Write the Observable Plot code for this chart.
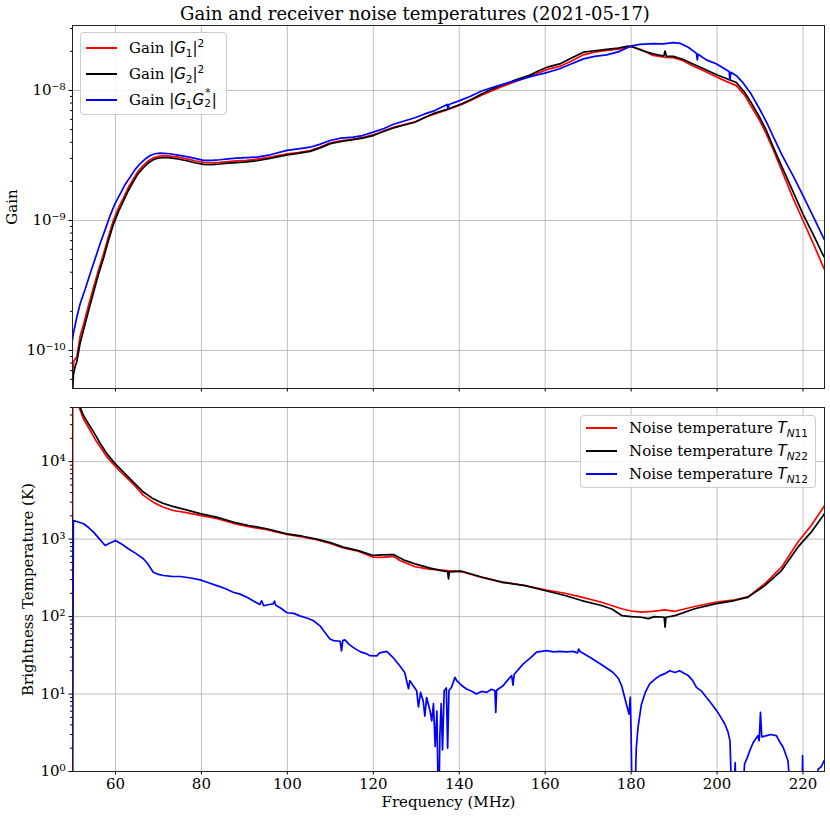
<!DOCTYPE html>
<html><head><meta charset="utf-8">
<script src="https://cdn.jsdelivr.net/npm/d3@7"></script>
<script src="https://cdn.jsdelivr.net/npm/@observablehq/plot@0.6"></script>
<style>
body{margin:0;background:#fff;}
#fig{position:relative;width:830px;height:816px;font-family:"DejaVu Serif",serif;color:#000;overflow:hidden;}
#fig svg{position:absolute;left:0;}
.title{position:absolute;top:2px;left:0;width:830px;text-align:center;font-size:18px;line-height:24px;}
.legend{position:absolute;background:rgba(255,255,255,0.85);border:1px solid #cccccc;border-radius:4px;box-sizing:border-box;font-size:15px;}
.row{position:absolute;left:0;height:22px;display:flex;align-items:center;white-space:nowrap;}
.sw{display:inline-block;margin-left:5px;width:31px;height:2px;}
.lbl{margin-left:12px;line-height:22px;}
.m{font-family:"DejaVu Sans",sans-serif;}
.m sub,.m sup{font-size:70%;line-height:0;}
.ss{position:relative;display:inline-block;width:0.5em;height:1em;vertical-align:baseline;}
.ss .sp{position:absolute;left:0.1em;top:-0.114em;font-size:70%;line-height:0.8;}
.ss .sb{position:absolute;left:0;top:0.9em;font-size:70%;line-height:0.8;}
</style>
</head><body>
<div id="fig">
  <div class="title">Gain and receiver noise temperatures (2021-05-17)</div>
</div>
<script>
// ---------- data (frequency MHz, value) ----------
const freqTicks = [60, 80, 100, 120, 140, 160, 180, 200, 220];
const gainMajor = [1e-10, 1e-9, 1e-8];
const tempMajor = [1, 10, 100, 1000, 10000];

const gainG1 = [[50.0,6.5e-11],[50.3,8.3e-11],[51.0,8.9e-11],[51.8,1.3e-10],[52.6,1.6e-10],[53.7,2.2e-10],[54.9,3.07e-10],[56.0,4.1e-10],[57.2,5.5e-10],[58.3,7.4e-10],[59.5,1.0e-9],[60.7,1.25e-9],[61.9,1.5e-9],[63.0,1.8e-9],[64.2,2.1e-9],[65.3,2.4e-9],[66.5,2.65e-9],[67.7,2.88e-9],[68.8,3.03e-9],[70.0,3.12e-9],[71.2,3.15e-9],[72.7,3.13e-9],[74.5,3.07e-9],[76.6,2.98e-9],[78.5,2.88e-9],[80.5,2.8e-9],[82.4,2.78e-9],[84.3,2.8e-9],[86.2,2.84e-9],[88.2,2.87e-9],[90.5,2.9e-9],[92.9,2.96e-9],[96.0,3.07e-9],[100.0,3.25e-9],[102.5,3.33e-9],[105.3,3.45e-9],[107.5,3.65e-9],[110.0,3.95e-9],[112.5,4.1e-9],[115.3,4.22e-9],[117.5,4.35e-9],[120.0,4.55e-9],[122.5,4.9e-9],[124.7,5.2e-9],[127.0,5.45e-9],[129.7,5.75e-9],[132.0,6.2e-9],[134.3,6.6e-9],[137.4,7.15e-9],[140.6,7.8e-9],[143.0,8.5e-9],[145.2,9.2e-9],[147.5,9.9e-9],[149.9,1.07e-8],[153.0,1.17e-8],[156.1,1.27e-8],[158.5,1.37e-8],[160.7,1.46e-8],[163.4,1.53e-8],[166.0,1.68e-8],[168.9,1.88e-8],[171.5,1.97e-8],[174.3,2.03e-8],[177.0,2.08e-8],[179.9,2.18e-8],[182.5,2.05e-8],[185.1,1.86e-8],[187.8,1.8e-8],[189.8,1.79e-8],[192.0,1.7e-8],[194.4,1.54e-8],[197.0,1.41e-8],[199.9,1.27e-8],[202.0,1.18e-8],[204.5,1.09e-8],[206.4,9.2e-9],[208.0,7.5e-9],[209.9,5.9e-9],[211.5,4.6e-9],[213.0,3.55e-9],[215.0,2.45e-9],[217.7,1.48e-9],[220.0,1.0e-9],[222.7,6.3e-10],[224.7,4.4e-10],[225.0,4.2e-10]];

const gainG2 = [[50.0,4.5e-11],[50.2,6.5e-11],[50.6,7.5e-11],[51.0,8.2e-11],[51.8,1.15e-10],[52.6,1.45e-10],[53.7,2.0e-10],[54.9,2.8e-10],[56.0,3.8e-10],[57.2,5.1e-10],[58.3,6.9e-10],[59.5,9.3e-10],[60.7,1.17e-9],[61.9,1.42e-9],[63.0,1.7e-9],[64.2,2.0e-9],[65.3,2.3e-9],[66.5,2.55e-9],[67.7,2.78e-9],[68.8,2.93e-9],[70.0,3.02e-9],[71.2,3.05e-9],[72.7,3.03e-9],[74.5,2.97e-9],[76.6,2.88e-9],[78.5,2.78e-9],[80.5,2.7e-9],[82.4,2.69e-9],[84.3,2.72e-9],[86.2,2.76e-9],[88.2,2.79e-9],[90.5,2.82e-9],[92.9,2.88e-9],[96.0,3.0e-9],[100.0,3.2e-9],[102.5,3.28e-9],[105.3,3.4e-9],[107.5,3.6e-9],[110.0,3.9e-9],[112.5,4.05e-9],[115.3,4.18e-9],[117.5,4.3e-9],[120.0,4.5e-9],[122.5,4.85e-9],[124.7,5.15e-9],[127.0,5.4e-9],[129.7,5.7e-9],[132.0,6.2e-9],[134.3,6.7e-9],[137.4,7.2e-9],[140.6,7.9e-9],[143.0,8.6e-9],[145.2,9.4e-9],[147.5,1.02e-8],[149.9,1.1e-8],[153.0,1.2e-8],[156.1,1.3e-8],[158.5,1.42e-8],[160.7,1.52e-8],[163.4,1.6e-8],[166.0,1.77e-8],[168.9,1.97e-8],[171.5,2.02e-8],[174.3,2.07e-8],[177.0,2.12e-8],[179.3,2.19e-8],[180.5,2.16e-8],[182.5,2.03e-8],[185.1,1.91e-8],[187.6,1.84e-8],[187.9,2.01e-8],[188.2,1.84e-8],[189.8,1.83e-8],[192.0,1.74e-8],[194.4,1.6e-8],[197.0,1.46e-8],[199.9,1.32e-8],[202.0,1.24e-8],[204.5,1.15e-8],[206.4,9.7e-9],[208.0,8.0e-9],[209.9,6.24e-9],[211.5,4.9e-9],[213.0,3.72e-9],[215.0,2.63e-9],[217.7,1.66e-9],[220.0,1.12e-9],[222.7,7.4e-10],[224.7,5.4e-10],[225.0,5.2e-10]];

const gainG12 = [[50.0,1.2e-10],[50.2,1.35e-10],[51.0,1.8e-10],[51.8,2.3e-10],[53.0,3.0e-10],[54.1,3.9e-10],[55.2,5.0e-10],[56.4,6.6e-10],[57.6,8.5e-10],[58.8,1.1e-9],[59.9,1.35e-9],[61.1,1.6e-9],[62.2,1.88e-9],[63.4,2.15e-9],[64.5,2.45e-9],[65.7,2.73e-9],[66.9,2.97e-9],[68.1,3.16e-9],[69.2,3.26e-9],[70.4,3.3e-9],[72.7,3.26e-9],[74.5,3.18e-9],[76.6,3.1e-9],[78.5,3.0e-9],[80.5,2.9e-9],[82.4,2.9e-9],[84.3,2.93e-9],[86.2,2.98e-9],[88.2,3.02e-9],[90.5,3.04e-9],[92.9,3.07e-9],[96.0,3.2e-9],[99.9,3.46e-9],[102.5,3.55e-9],[105.3,3.66e-9],[107.5,3.85e-9],[109.9,4.12e-9],[112.5,4.3e-9],[115.3,4.37e-9],[117.5,4.5e-9],[120.0,4.78e-9],[122.5,5.1e-9],[124.7,5.5e-9],[127.0,5.8e-9],[129.7,6.17e-9],[132.0,6.6e-9],[134.3,7.0e-9],[137.2,7.8e-9],[137.4,7.2e-9],[137.6,7.8e-9],[139.8,8.28e-9],[142.5,9.0e-9],[145.2,9.9e-9],[147.5,1.05e-8],[149.9,1.11e-8],[152.0,1.16e-8],[154.5,1.22e-8],[157.0,1.29e-8],[159.9,1.36e-8],[163.4,1.47e-8],[166.0,1.6e-8],[168.9,1.75e-8],[171.5,1.83e-8],[174.3,1.88e-8],[177.0,1.98e-8],[179.9,2.19e-8],[182.0,2.26e-8],[185.1,2.29e-8],[187.5,2.28e-8],[189.8,2.33e-8],[191.5,2.3e-8],[193.3,2.15e-8],[195.2,1.93e-8],[195.4,1.72e-8],[195.6,1.9e-8],[197.5,1.72e-8],[199.9,1.6e-8],[202.8,1.4e-8],[203.0,1.2e-8],[203.2,1.38e-8],[204.5,1.3e-8],[206.0,1.15e-8],[208.0,9.3e-9],[209.9,7.2e-9],[211.5,5.7e-9],[213.0,4.47e-9],[215.0,3.24e-9],[217.7,2.2e-9],[220.0,1.55e-9],[222.7,1.02e-9],[224.7,7.4e-10],[225.0,7.1e-10]];

const tempN11 = [[50.0,0.5],[50.05,8e4],[51.3,5.5e4],[52.5,3.6e4],[54.0,2.6e4],[55.5,1.85e4],[57.0,1.4e4],[58.0,1.15e4],[59.5,9.3e3],[61.0,7.6e3],[62.6,6.2e3],[64.5,4.9e3],[66.5,3.67e3],[68.8,3.0e3],[71.0,2.6e3],[73.5,2.34e3],[76.5,2.2e3],[79.7,2.02e3],[83.5,1.85e3],[87.4,1.6e3],[91.0,1.45e3],[95.2,1.32e3],[99.9,1.15e3],[103.5,1.07e3],[106.8,980],[110.0,880],[113.0,770],[116.5,700],[120.0,585],[122.0,580],[124.7,600],[126.2,530],[129.7,440],[133.0,410],[135.5,400],[137.1,393],[140.6,380],[145.2,320],[149.9,280],[155.3,252],[160.3,220],[164.6,200],[168.5,178],[173.1,153],[177.8,126],[180.0,118],[182.4,114],[185.0,117],[187.9,122],[190.2,117],[194.8,135],[199.5,153],[204.1,164],[207.2,180],[211.1,265],[215.0,434],[218.8,912],[221.9,1500],[224.7,2540],[225.0,2700]];

const tempN22 = [[50.0,8e4],[51.5,5.5e4],[52.5,4.0e4],[54.0,2.9e4],[54.9,2.42e4],[56.5,1.7e4],[58.0,1.27e4],[59.5,1.0e4],[61.0,8.2e3],[62.6,6.65e3],[64.5,5.2e3],[66.5,4.05e3],[68.8,3.31e3],[71.0,2.9e3],[73.5,2.63e3],[76.5,2.38e3],[79.7,2.13e3],[83.5,1.92e3],[87.4,1.66e3],[91.0,1.5e3],[95.2,1.36e3],[99.9,1.17e3],[103.5,1.09e3],[106.8,1.0e3],[110.0,900],[113.0,787],[116.5,710],[120.0,615],[122.0,625],[124.7,632],[127.0,540],[129.7,479],[133.0,425],[135.5,395],[137.3,380],[137.5,307],[137.7,378],[140.6,385],[145.2,324],[149.9,277],[155.3,251],[159.9,217],[164.6,187],[168.5,161],[173.1,139],[175.5,125],[177.8,103],[180.0,100],[182.4,98],[184.0,94],[185.5,100],[187.7,98],[187.9,73],[188.1,98],[190.2,103],[194.8,126],[199.5,146],[204.1,161],[207.2,178],[211.1,251],[215.0,393],[218.8,787],[221.9,1230],[224.7,2020],[225.0,2150]];

const tempN12 = [[50.0,0.5],[50.2,1.74e3],[51.5,1.65e3],[52.6,1.58e3],[53.8,1.4e3],[54.9,1.23e3],[56.3,1.0e3],[57.6,828],[58.5,880],[60.0,962],[61.5,860],[63.0,750],[64.8,650],[66.5,557],[67.5,480],[68.8,374],[70.0,350],[71.2,339],[73.0,330],[75.1,329],[77.5,315],[79.7,298],[81.5,275],[83.6,251],[85.5,230],[87.4,206],[89.0,195],[90.6,178],[92.0,160],[93.6,143],[94.0,160],[94.5,138],[95.5,142],[96.7,146],[97.0,158],[97.3,140],[98.5,128],[99.9,112],[101.5,110],[102.9,102],[104.5,96],[106.0,89],[107.6,76],[108.4,66],[109.9,51.5],[110.7,49],[112.3,48],[112.6,36],[112.9,49],[113.4,50],[114.3,44],[115.3,40],[117.0,35],[118.5,33],[119.2,31.3],[120.8,31],[121.5,34],[123.1,35.5],[124.5,30],[126.2,23],[127.3,19],[128.2,11.7],[128.5,14.9],[129.2,13],[130.1,11],[130.5,6.8],[131.0,10.5],[131.6,8.2],[132.0,5.2],[132.4,9],[133.2,6.1],[133.6,4.5],[134.0,7.5],[134.4,2.1],[134.8,6],[135.1,0.5],[135.3,0.5],[135.5,3],[135.8,7.5],[136.1,1.9],[136.5,11],[137.0,12],[137.3,2.0],[137.6,11],[138.2,12.2],[139.0,16.4],[139.4,14.9],[140.5,13],[141.7,11.6],[143.0,10.8],[144.0,10],[145.2,10.8],[146.4,10.5],[147.5,11.5],[148.3,11],[148.5,5.8],[148.7,11.2],[150.2,12.8],[151.2,15],[152.2,17.3],[152.5,13],[152.8,18],[154.9,24.5],[156.5,29],[158.0,34.7],[160.3,36.3],[162.0,35],[163.4,35.5],[165.0,35],[166.5,35.5],[167.5,34],[167.8,38],[168.1,35.5],[170.4,29.8],[173.5,23.2],[175.8,19],[177.0,16],[177.8,12.8],[178.9,7.4],[179.5,5.5],[179.8,9.1],[180.0,3],[180.2,0.5],[180.9,0.5],[181.2,2],[181.6,3.7],[182.4,7.4],[183.3,10.5],[184.3,13.5],[185.5,15.5],[186.7,17.3],[188.0,18.5],[189.0,20],[190.2,19],[191.3,20],[192.3,18.5],[193.3,17.3],[194.3,15],[195.2,12.2],[196.3,11],[197.5,9.1],[198.7,7.5],[199.9,6.1],[200.9,5],[201.8,4.1],[202.5,3.3],[203.0,2.5],[203.4,0.5],[204.0,0.5],[204.2,1.3],[204.5,0.5],[206.0,0.5],[206.4,1.26],[207.0,1.5],[207.6,1.85],[208.4,2.37],[209.5,2.9],[209.8,2.5],[210.1,5.8],[210.4,2.8],[211.5,2.9],[212.5,3.0],[213.8,2.9],[214.6,2.4],[215.4,2.04],[216.5,1.38],[217.1,0.5],[219.8,0.5],[219.9,1.6],[220.0,0.5],[223.3,0.5],[223.5,1.07],[224.2,1.15],[224.7,1.3],[225.0,1.4]];

// ---------- helpers ----------
const SUP = {"-":"\u207B","0":"\u2070","1":"\u00B9","2":"\u00B2","3":"\u00B3","4":"\u2074","5":"\u2075","6":"\u2076","7":"\u2077","8":"\u2078","9":"\u2079"};
const powFmt = v => "10" + String(Math.round(Math.log10(v))).split("").map(c => SUP[c]).join("");
function minorTicks(major, lo, hi) {
  const out = [];
  const decades = [major[0] / 10, ...major];
  for (const d of decades) for (let m = 2; m <= 9; m++) { const v = d * m; if (v >= lo && v <= hi) out.push(v); }
  return out;
}
const gridStyle = {stroke: "#b0b0b0", strokeOpacity: 1, strokeWidth: 0.8};
const lineStyle = {x: d => d[0], y: d => d[1], strokeWidth: 1.7, clip: true};
const FONT = "DejaVu Serif";
const labelStyle = {text: d => d, fontSize: 15, textAnchor: "middle", lineAnchor: "middle"};

const gainDomain = [5.1e-11, 3.16e-8];
const tempDomain = [1, 5.0e4];

const topChart = Plot.plot({
  width: 830, height: 400,
  marginTop: 25, marginBottom: 12, marginLeft: 72, marginRight: 6,
  style: {fontFamily: FONT, fontSize: "15px", background: "transparent", color: "black", overflow: "visible"},
  x: {domain: [50, 225]},
  y: {type: "log", domain: gainDomain},
  marks: [
    Plot.gridX(freqTicks, gridStyle),
    Plot.gridY(gainMajor, gridStyle),
    Plot.line(gainG1, {...lineStyle, stroke: "#ff0000"}),
    Plot.line(gainG2, {...lineStyle, stroke: "#000000"}),
    Plot.line(gainG12, {...lineStyle, stroke: "#0000ff"}),
    Plot.frame({stroke: "#222", strokeWidth: 1}),
    Plot.axisX(freqTicks, {tickSize: 3.5, tickFormat: () => "", label: null}),
    Plot.axisY(gainMajor, {tickSize: 3.5, tickPadding: 3.5, tickFormat: powFmt, label: null}),
    Plot.axisY(minorTicks(gainMajor, ...gainDomain), {tickSize: 2, tickFormat: () => "", label: null}),
    Plot.text(["Gain"], {...labelStyle, frameAnchor: "left", dx: -60, rotate: -90})
  ]
});

const botChart = Plot.plot({
  width: 830, height: 416,
  marginTop: 7, marginBottom: 45, marginLeft: 72, marginRight: 6,
  style: {fontFamily: FONT, fontSize: "15px", background: "transparent", color: "black", overflow: "visible"},
  x: {domain: [50, 225]},
  y: {type: "log", domain: tempDomain},
  marks: [
    Plot.gridX(freqTicks, gridStyle),
    Plot.gridY(tempMajor, gridStyle),
    Plot.line(tempN11, {...lineStyle, stroke: "#ff0000"}),
    Plot.line(tempN22, {...lineStyle, stroke: "#000000"}),
    Plot.line(tempN12, {...lineStyle, stroke: "#0000ff"}),
    Plot.frame({stroke: "#222", strokeWidth: 1}),
    Plot.axisX(freqTicks, {tickSize: 3.5, tickPadding: 3.5, label: null}),
    Plot.axisY(tempMajor, {tickSize: 3.5, tickPadding: 3.5, tickFormat: powFmt, label: null}),
    Plot.axisY(minorTicks(tempMajor, ...tempDomain), {tickSize: 2, tickFormat: () => "", label: null}),
    Plot.text(["Brightness Temperature (K)"], {...labelStyle, frameAnchor: "left", dx: -44, rotate: -90}),
    Plot.text(["Frequency (MHz)"], {...labelStyle, frameAnchor: "bottom", dy: 31})
  ]
});

const fig = document.getElementById("fig");
topChart.style.top = "0px";
botChart.style.top = "400px";
fig.appendChild(topChart);
fig.appendChild(botChart);

// ---------- legends ----------
const gainLegend = [
  {color: "#ff0000", html: 'Gain <span class="m">|<i>G</i><sub>1</sub>|<sup>2</sup></span>'},
  {color: "#000000", html: 'Gain <span class="m">|<i>G</i><sub>2</sub>|<sup>2</sup></span>'},
  {color: "#0000ff", html: 'Gain <span class="m">|<i>G</i><sub>1</sub><i>G</i><span class="ss"><span class="sp">*</span><span class="sb">2</span></span>|</span>'}
];
const tempLegend = [
  {color: "#ff0000", html: 'Noise temperature <span class="m"><i>T</i><sub><i>N</i>11</sub></span>'},
  {color: "#000000", html: 'Noise temperature <span class="m"><i>T</i><sub><i>N</i>22</sub></span>'},
  {color: "#0000ff", html: 'Noise temperature <span class="m"><i>T</i><sub><i>N</i>12</sub></span>'}
];
function addLegend(items, box, rows) {
  const div = document.createElement("div");
  div.className = "legend";
  Object.assign(div.style, {left: box[0] + "px", top: box[1] + "px", width: box[2] + "px", height: box[3] + "px"});
  items.forEach((it, i) => {
    const r = document.createElement("div");
    r.className = "row";
    r.style.top = (rows[i] - 11) + "px";
    r.innerHTML = `<span class="sw" style="background:${it.color}"></span><span class="lbl">${it.html}</span>`;
    div.appendChild(r);
  });
  fig.appendChild(div);
}
addLegend(gainLegend, [80, 32, 147, 83], [14.5, 40.5, 66.5]);
addLegend(tempLegend, [580, 415, 236, 73], [11.5, 35, 57.5]);
</script>
</body></html>
